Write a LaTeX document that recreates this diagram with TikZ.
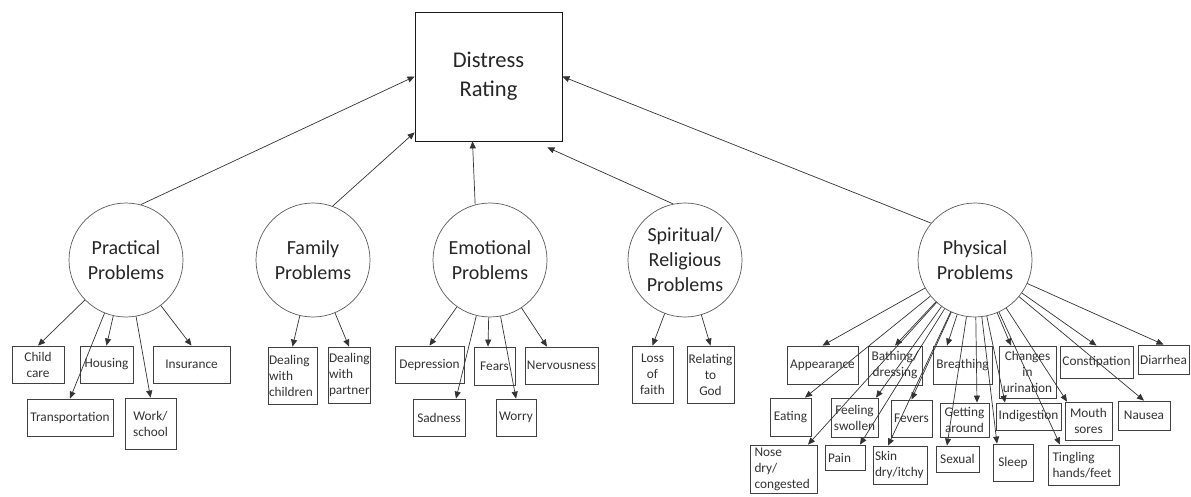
\documentclass[tikz,border=0pt]{standalone}
\usepackage{fontspec}
\setmainfont{Carlito}
\usetikzlibrary{arrows.meta}
\tikzset{
    itembox/.style={draw=black!75, line width=0.8pt, text=black!80, align=center,
        inner sep=1pt, font=\fontsize{13.3}{16}\selectfont},
    leftbox/.style={itembox, align=left, text width=#1},
    boxsize/.style 2 args={minimum width=#1pt, minimum height=#2pt},
    catcircle/.style={draw=black!65, line width=0.7pt, circle, text=black!85, align=center,
        inner sep=0pt, minimum size=114pt, font=\fontsize{20}{25}\selectfont},
    ratebox/.style={draw=black!90, line width=0.8pt, text=black!85, align=center,
        minimum width=147pt, minimum height=129pt, font=\fontsize{22.5}{29}\selectfont},
    itemarrow/.style={-{Triangle[length=7pt,width=6pt]}, draw=black!80, line width=0.7pt}
}

\begin{document}
\begin{tikzpicture}[x=1pt,y=-1pt]
\useasboundingbox (0,0) rectangle (1191,497);
% top box
\node[ratebox] (dist) at (488.5,76.5) {Distress\\Rating};
% problem groups
\node[catcircle] (prac) at (126,260) {Practical\\Problems};
\node[catcircle] (fam) at (313,260) {Family\\Problems};
\node[catcircle] (emo) at (490,260) {Emotional\\Problems};
\node[catcircle] (spir) at (685,260) {Spiritual/\\Religious\\Problems};
\node[catcircle] (phys) at (975,260) {Physical\\Problems};
\draw[itemarrow] (prac.75) -- (dist.west);
\draw[itemarrow] (fam.70) -- ([yshift=9pt]dist.south west);
\draw[itemarrow] (emo.105) -- ([xshift=-16pt]dist.south);
\draw[itemarrow] (spir.102) -- ([xshift=-15pt,yshift=-6pt]dist.south east);
\draw[itemarrow] (phys.140) -- (dist.east);
% practical
\node[itembox, boxsize={52}{37}] (child) at (38,364.5) {Child\\care};
\node[itembox, boxsize={53}{37}] (house) at (106.5,364.5) {Housing};
\node[itembox, boxsize={77}{37}] (insur) at (191.5,364.5) {Insurance};
\node[itembox, boxsize={86}{37}] (transp) at (70,417.5) {Transportation};
\node[itembox, boxsize={51}{51}] (work) at (150.5,423.5) {Work/\\school};
\draw[itemarrow] (prac) -- (child.north);
\draw[itemarrow] (prac) -- (house.north);
\draw[itemarrow] (prac) -- (insur.north);
\draw[itemarrow] (prac) -- (transp.north);
\draw[itemarrow] (prac) -- (work.north);
% family
\node[leftbox=47pt, boxsize={49}{57}] (dchild) at (292.5,375.5) {Dealing\\with\\children};
\node[leftbox=40pt, boxsize={42}{56}] (dpart) at (349,375) {Dealing\\with\\partner};
\draw[itemarrow] (fam) -- (dchild.north);
\draw[itemarrow] (fam) -- (dpart.north);
% emotional
\node[itembox, boxsize={69}{37}] (depr) at (429.5,364.5) {Depression};
\node[itembox, boxsize={41}{38}] (fears) at (494.5,366) {Fears};
\node[itembox, boxsize={73}{37}] (nerv) at (561.5,365.5) {Nervousness};
\node[itembox, boxsize={52}{37}] (sad) at (439,417.5) {Sadness};
\node[itembox, boxsize={40}{37}] (worry) at (516,417.5) {Worry};
\draw[itemarrow] (emo) -- (depr.north);
\draw[itemarrow] (emo) -- ([xshift=-6.5pt]fears.north);
\draw[itemarrow] (emo) -- ([xshift=-14.5pt]nerv.north);
\draw[itemarrow] (emo) -- ([xshift=17pt]sad.north);
\draw[itemarrow] (emo) -- (worry.north);
% spiritual
\node[itembox, boxsize={41}{57}] (loss) at (652.5,374.5) {Loss\\of\\faith};
\node[itembox, boxsize={47}{57}] (relat) at (710.5,374.5) {Relating\\to\\God};
\draw[itemarrow] (spir) -- (loss.north);
\draw[itemarrow] (spir) -- (relat.north);
% physical
\node[itembox, boxsize={71}{38}] (appear) at (822.5,365) {Appearance};
\node[itembox, boxsize={54}{39}] (bath) at (895,365.5) {Bathing/\\dressing};
\node[itembox, boxsize={59}{38}] (breath) at (962.5,365) {Breathing};
\node[itembox, boxsize={57}{52}] (chang) at (1027.5,372) {Changes\\in\\urination};
\node[itembox, boxsize={73}{32}] (const) at (1096.5,362) {Constipation};
\node[itembox, boxsize={51}{29}] (diarr) at (1163.5,359.5) {Diarrhea};
\node[itembox, boxsize={41}{38}] (eat) at (790.5,417) {Eating};
\node[itembox, boxsize={47}{39}] (swoll) at (854.5,417.5) {Feeling\\swollen};
\node[itembox, boxsize={41}{37}] (fever) at (911.5,418.5) {Fevers};
\node[itembox, boxsize={49}{34}] (getar) at (964.5,420) {Getting\\around};
\node[itembox, boxsize={65}{27}] (indig) at (1028.5,416.5) {Indigestion};
\node[itembox, boxsize={47}{38}] (mouth) at (1088.5,421) {Mouth\\sores};
\node[itembox, boxsize={52}{29}] (nausea) at (1144,415.5) {Nausea};
\node[leftbox=58pt, boxsize={67}{48}] (nose) at (783.5,469) {Nose\\dry/\\congested};
\node[leftbox=34pt, boxsize={40}{25}] (pain) at (845,457.5) {Pain};
\node[leftbox=50pt, boxsize={54}{38}] (skin) at (900,465) {Skin\\dry/itchy};
\node[itembox, boxsize={43}{26}] (sexual) at (957.5,459) {Sexual};
\node[itembox, boxsize={40}{37}] (sleep) at (1013,462.5) {Sleep};
\node[leftbox=62pt, boxsize={71}{40}] (tingl) at (1083.5,465) {Tingling\\hands/feet};
\draw[itemarrow] (phys) -- (appear.north);
\draw[itemarrow] (phys) -- (bath.north);
\draw[itemarrow] (phys) -- ([xshift=-15.5pt]breath.north);
\draw[itemarrow] (phys) -- ([xshift=-16.5pt]chang.north);
\draw[itemarrow] (phys) -- (const.north);
\draw[itemarrow] (phys) -- (diarr.north);
\draw[itemarrow] (phys) -- ([xshift=14.5pt]eat.north);
\draw[itemarrow] (phys) -- ([xshift=21.5pt]swoll.north);
\draw[itemarrow] (phys) -- (fever.north);
\draw[itemarrow] (phys) -- ([xshift=12.5pt]getar.north);
\draw[itemarrow] (phys) -- ([xshift=-23.5pt]indig.north);
\draw[itemarrow] (phys) -- ([xshift=-21.5pt]mouth.north);
\draw[itemarrow] (phys) -- (nausea.north);
\draw[itemarrow] (phys) -- ([xshift=24.5pt]nose.north);
\draw[itemarrow] (phys) -- ([xshift=15pt]pain.north);
\draw[itemarrow] (phys) -- ([xshift=-12pt]skin.north);
\draw[itemarrow] (phys) -- ([xshift=-10.5pt]sexual.north);
\draw[itemarrow] (phys) -- ([xshift=-16pt]sleep.north);
\draw[itemarrow] (phys) -- ([xshift=-23.5pt]tingl.north);
\end{tikzpicture}
\end{document}
